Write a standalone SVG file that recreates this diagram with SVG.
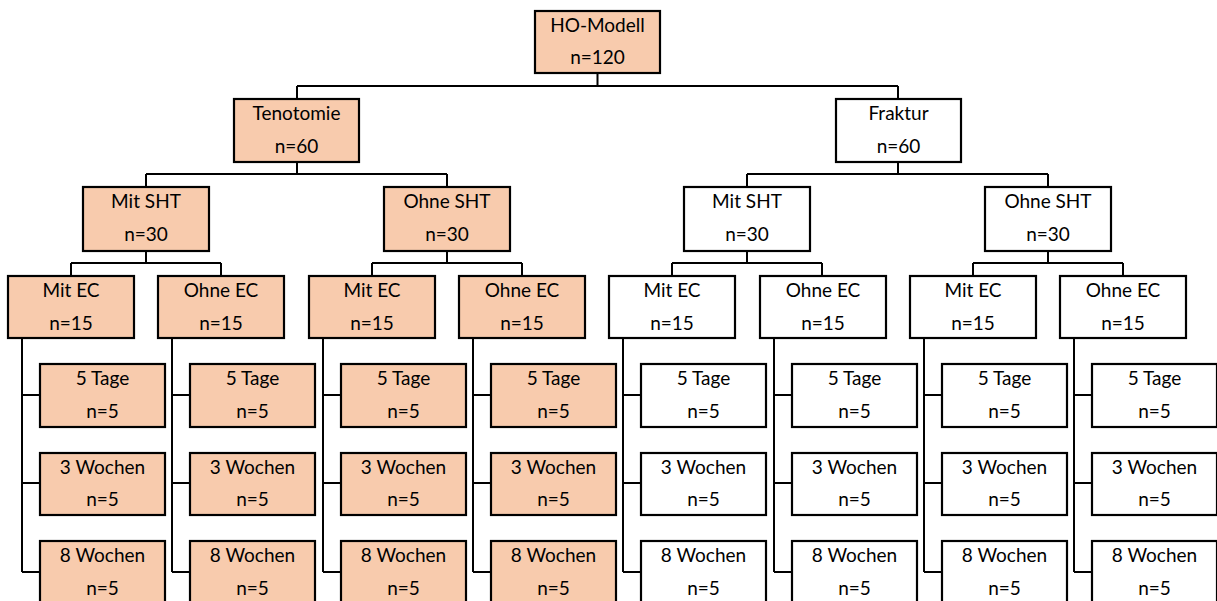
<svg xmlns="http://www.w3.org/2000/svg" width="1217" height="601" viewBox="0 0 1217 601">
<style>
.b{stroke:#000;stroke-width:2.2}
.o{fill:#F8CBAD}
.w{fill:#fff}
text{font-family:Lato,"Open Sans","Liberation Sans",sans-serif;font-size:19px;fill:#000;text-anchor:middle}
.c{fill:none;stroke:#000;stroke-width:2}
</style>
<rect width="1217" height="601" fill="#fff"/>
<g id="connectors" class="c">
<path d="M597.5 73V86M297 86H898M297 86V99M898 86V99"/>
<path d="M297 162V174M146 174H447M146 174V187M447 174V187"/>
<path d="M898 162V174M747 174H1048M747 174V187M1048 174V187"/>
<path d="M146 251V263M71 263H221M71 263V276M221 263V276"/>
<path d="M447 251V263M372 263H522M372 263V276M522 263V276"/>
<path d="M747 251V263M672 263H822M672 263V276M822 263V276"/>
<path d="M1048 251V263M973 263H1123M973 263V276M1123 263V276"/>
<path d="M22 338V572M22 395H40M22 483H40M22 572H40"/>
<path d="M172 338V572M172 395H190M172 483H190M172 572H190"/>
<path d="M323 338V572M323 395H341M323 483H341M323 572H341"/>
<path d="M473 338V572M473 395H491M473 483H491M473 572H491"/>
<path d="M623 338V572M623 395H641M623 483H641M623 572H641"/>
<path d="M774 338V572M774 395H792M774 483H792M774 572H792"/>
<path d="M924 338V572M924 395H942M924 483H942M924 572H942"/>
<path d="M1074 338V572M1074 395H1092M1074 483H1092M1074 572H1092"/>
</g>
<g id="ho"><rect class="b o" x="535" y="11" width="125" height="62"/><text x="597.5" y="32">HO-Modell</text><text x="597.5" y="64">n=120</text></g>
<g id="tenotomie"><rect class="b o" x="234" y="99" width="125" height="63"/><text x="296.5" y="120">Tenotomie</text><text x="296.5" y="153">n=60</text></g>
<g id="fraktur"><rect class="b w" x="836" y="99" width="125" height="63"/><text x="898.5" y="120">Fraktur</text><text x="898.5" y="153">n=60</text></g>
<g id="t-mit-sht"><rect class="b o" x="83" y="187" width="126" height="64"/><text x="146" y="208">Mit SHT</text><text x="146" y="241">n=30</text></g>
<g id="t-ohne-sht"><rect class="b o" x="384" y="187" width="126" height="64"/><text x="447" y="208">Ohne SHT</text><text x="447" y="241">n=30</text></g>
<g id="f-mit-sht"><rect class="b w" x="684" y="187" width="126" height="64"/><text x="747" y="208">Mit SHT</text><text x="747" y="241">n=30</text></g>
<g id="f-ohne-sht"><rect class="b w" x="985" y="187" width="126" height="64"/><text x="1048" y="208">Ohne SHT</text><text x="1048" y="241">n=30</text></g>
<g id="ec1"><rect class="b o" x="8" y="276" width="126" height="62"/><text x="71" y="297">Mit EC</text><text x="71" y="330">n=15</text></g>
<g id="ec2"><rect class="b o" x="158" y="276" width="126" height="62"/><text x="221" y="297">Ohne EC</text><text x="221" y="330">n=15</text></g>
<g id="ec3"><rect class="b o" x="309" y="276" width="126" height="62"/><text x="372" y="297">Mit EC</text><text x="372" y="330">n=15</text></g>
<g id="ec4"><rect class="b o" x="459" y="276" width="126" height="62"/><text x="522" y="297">Ohne EC</text><text x="522" y="330">n=15</text></g>
<g id="ec5"><rect class="b w" x="609" y="276" width="126" height="62"/><text x="672" y="297">Mit EC</text><text x="672" y="330">n=15</text></g>
<g id="ec6"><rect class="b w" x="760" y="276" width="126" height="62"/><text x="823" y="297">Ohne EC</text><text x="823" y="330">n=15</text></g>
<g id="ec7"><rect class="b w" x="910" y="276" width="126" height="62"/><text x="973" y="297">Mit EC</text><text x="973" y="330">n=15</text></g>
<g id="ec8"><rect class="b w" x="1060" y="276" width="126" height="62"/><text x="1123" y="297">Ohne EC</text><text x="1123" y="330">n=15</text></g>
<g id="l1a"><rect class="b o" x="40" y="364" width="125" height="63"/><text x="102.5" y="385">5 Tage</text><text x="102.5" y="418">n=5</text></g>
<g id="l1b"><rect class="b o" x="40" y="453" width="125" height="62"/><text x="102.5" y="474">3 Wochen</text><text x="102.5" y="506">n=5</text></g>
<g id="l1c"><rect class="b o" x="40" y="541" width="125" height="63"/><text x="102.5" y="562">8 Wochen</text><text x="102.5" y="595">n=5</text></g>
<g id="l2a"><rect class="b o" x="190" y="364" width="125" height="63"/><text x="252.5" y="385">5 Tage</text><text x="252.5" y="418">n=5</text></g>
<g id="l2b"><rect class="b o" x="190" y="453" width="125" height="62"/><text x="252.5" y="474">3 Wochen</text><text x="252.5" y="506">n=5</text></g>
<g id="l2c"><rect class="b o" x="190" y="541" width="125" height="63"/><text x="252.5" y="562">8 Wochen</text><text x="252.5" y="595">n=5</text></g>
<g id="l3a"><rect class="b o" x="341" y="364" width="125" height="63"/><text x="403.5" y="385">5 Tage</text><text x="403.5" y="418">n=5</text></g>
<g id="l3b"><rect class="b o" x="341" y="453" width="125" height="62"/><text x="403.5" y="474">3 Wochen</text><text x="403.5" y="506">n=5</text></g>
<g id="l3c"><rect class="b o" x="341" y="541" width="125" height="63"/><text x="403.5" y="562">8 Wochen</text><text x="403.5" y="595">n=5</text></g>
<g id="l4a"><rect class="b o" x="491" y="364" width="125" height="63"/><text x="553.5" y="385">5 Tage</text><text x="553.5" y="418">n=5</text></g>
<g id="l4b"><rect class="b o" x="491" y="453" width="125" height="62"/><text x="553.5" y="474">3 Wochen</text><text x="553.5" y="506">n=5</text></g>
<g id="l4c"><rect class="b o" x="491" y="541" width="125" height="63"/><text x="553.5" y="562">8 Wochen</text><text x="553.5" y="595">n=5</text></g>
<g id="l5a"><rect class="b w" x="641" y="364" width="125" height="63"/><text x="703.5" y="385">5 Tage</text><text x="703.5" y="418">n=5</text></g>
<g id="l5b"><rect class="b w" x="641" y="453" width="125" height="62"/><text x="703.5" y="474">3 Wochen</text><text x="703.5" y="506">n=5</text></g>
<g id="l5c"><rect class="b w" x="641" y="541" width="125" height="63"/><text x="703.5" y="562">8 Wochen</text><text x="703.5" y="595">n=5</text></g>
<g id="l6a"><rect class="b w" x="792" y="364" width="125" height="63"/><text x="854.5" y="385">5 Tage</text><text x="854.5" y="418">n=5</text></g>
<g id="l6b"><rect class="b w" x="792" y="453" width="125" height="62"/><text x="854.5" y="474">3 Wochen</text><text x="854.5" y="506">n=5</text></g>
<g id="l6c"><rect class="b w" x="792" y="541" width="125" height="63"/><text x="854.5" y="562">8 Wochen</text><text x="854.5" y="595">n=5</text></g>
<g id="l7a"><rect class="b w" x="942" y="364" width="125" height="63"/><text x="1004.5" y="385">5 Tage</text><text x="1004.5" y="418">n=5</text></g>
<g id="l7b"><rect class="b w" x="942" y="453" width="125" height="62"/><text x="1004.5" y="474">3 Wochen</text><text x="1004.5" y="506">n=5</text></g>
<g id="l7c"><rect class="b w" x="942" y="541" width="125" height="63"/><text x="1004.5" y="562">8 Wochen</text><text x="1004.5" y="595">n=5</text></g>
<g id="l8a"><rect class="b w" x="1092" y="364" width="125" height="63"/><text x="1154.5" y="385">5 Tage</text><text x="1154.5" y="418">n=5</text></g>
<g id="l8b"><rect class="b w" x="1092" y="453" width="125" height="62"/><text x="1154.5" y="474">3 Wochen</text><text x="1154.5" y="506">n=5</text></g>
<g id="l8c"><rect class="b w" x="1092" y="541" width="125" height="63"/><text x="1154.5" y="562">8 Wochen</text><text x="1154.5" y="595">n=5</text></g>
</svg>
